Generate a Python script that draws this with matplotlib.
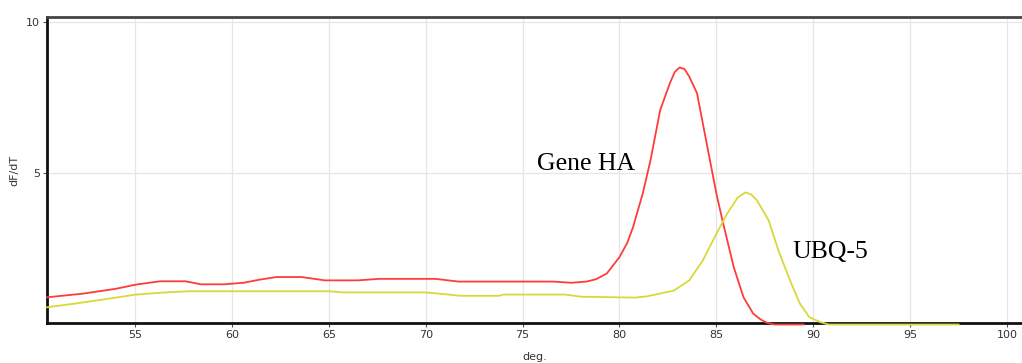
import matplotlib
matplotlib.use("Agg")
import matplotlib.pyplot as plt

# Gene HA melt curve (red)
gene_ha_x = [50.46, 52.3, 54.0, 55.05, 56.3, 57.6, 58.4, 59.6, 60.6, 61.4, 62.3, 63.6,
             64.8, 66.5, 67.6, 70.5, 71.7, 76.6, 77.5, 78.3, 78.8, 79.35, 80.0, 80.4,
             80.7, 81.2, 81.6, 82.1, 82.6, 82.85, 83.1, 83.35, 83.6, 84.0, 84.5, 85.0,
             85.35, 85.9, 86.4, 86.9, 87.3, 87.6, 88.0, 89.5]
gene_ha_y = [0.90, 1.02, 1.18, 1.32, 1.43, 1.43, 1.33, 1.33, 1.38, 1.48, 1.57, 1.57,
             1.46, 1.46, 1.51, 1.51, 1.42, 1.42, 1.38, 1.42, 1.50, 1.69, 2.23, 2.70,
             3.22, 4.33, 5.43, 7.09, 7.98, 8.35, 8.50, 8.45, 8.20, 7.65, 5.99, 4.33,
             3.34, 1.89, 0.90, 0.36, 0.16, 0.06, 0.0, 0.0]

# UBQ-5 melt curve (yellow)
ubq_x = [50.46, 52.0, 53.8, 55.05, 56.5, 57.8, 65.0, 65.8, 70.0, 70.7, 71.8, 73.8,
         74.0, 77.2, 78.0, 80.8, 81.4, 82.8, 83.6, 84.3, 85.0, 85.55, 86.1, 86.5,
         86.8, 87.1, 87.7, 88.2, 88.8, 89.3, 89.8, 90.35, 90.8, 97.5]
ubq_y = [0.57, 0.70, 0.87, 0.99, 1.06, 1.10, 1.10, 1.06, 1.06, 1.02, 0.95, 0.95,
         0.99, 0.99, 0.92, 0.89, 0.93, 1.12, 1.46, 2.12, 3.00, 3.66, 4.20, 4.37,
         4.30, 4.10, 3.44, 2.45, 1.46, 0.70, 0.24, 0.08, 0.0, 0.0]

x_ticks = [55, 60, 65, 70, 75, 80, 85, 90, 95, 100]
y_ticks = [5, 10]

fig = plt.figure(figsize=(10.22, 3.63), dpi=100)
ax = fig.add_axes([47 / 1022, 40 / 363, 975 / 1022, 306 / 363])

ax.plot(gene_ha_x, gene_ha_y, color="#ff3b3b", lw=1.3, clip_on=False, zorder=3)
ax.plot(ubq_x, ubq_y, color="#d8d83a", lw=1.3, clip_on=False, zorder=3)

ax.set_xlim(50.46, 100.77)
ax.set_ylim(0.05, 10.17)
ax.set_xticks(x_ticks)
ax.set_yticks(y_ticks)
ax.grid(True, color="#e6e6e6", lw=0.9)
ax.set_axisbelow(True)

for s in ["left", "bottom"]:
    ax.spines[s].set_linewidth(2.0)
    ax.spines[s].set_color("#111111")
ax.spines["top"].set_linewidth(2.0)
ax.spines["top"].set_color("#444444")
ax.spines["right"].set_visible(False)

ax.tick_params(axis="both", length=3, width=0.8, color="#555555",
               labelsize=8, labelcolor="#333333", pad=2)
ax.set_xlabel("deg.", fontsize=8, color="#333333", labelpad=9)
ax.set_ylabel("dF/dT", fontsize=8, color="#333333", labelpad=5)

ax.text(75.74, 5.1, "Gene HA", family="Liberation Serif", fontsize=18.5,
        color="black", ha="left", va="baseline")
ax.text(88.9, 2.19, "UBQ-5", family="Liberation Serif", fontsize=18.5,
        color="black", ha="left", va="baseline")

fig.savefig("out.png", dpi=100)
